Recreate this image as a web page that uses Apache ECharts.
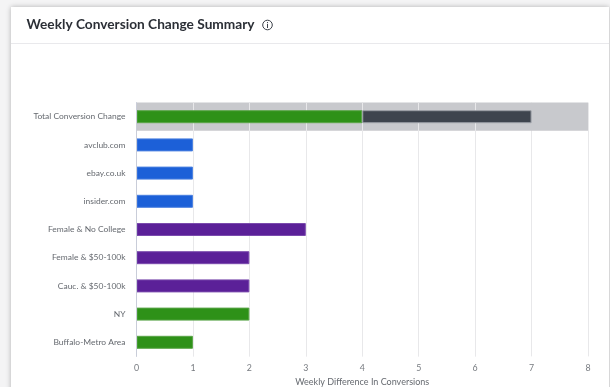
<!DOCTYPE html>
<html>
<head>
<meta charset="utf-8">
<style>
html,body{margin:0;padding:0;background:#f4f4f5;overflow:hidden}
#chart{width:610px;height:387px}
</style>
<script src="https://cdn.jsdelivr.net/npm/echarts@6/dist/echarts.min.js"></script>
</head>
<body>
<div id="chart"></div>
<script>
const categories = ['Total Conversion Change','avclub.com','ebay.co.uk','insider.com','Female & No College','Female & $50-100k','Cauc. & $50-100k','NY','Buffalo-Metro Area'];
const rangeBand = [8,null,null,null,null,null,null,null,null];
const greenValues = [4,null,null,null,null,null,null,2,1];
const darkValues = [3,null,null,null,null,null,null,null,null];
const blueValues = [null,1,1,1,null,null,null,null,null];
const purpleValues = [null,null,null,null,3,2,2,null,null];
const xTicks = [0,8];
const bandGridValues = [1,2,3,4,5,6];
const titleText = 'Weekly Conversion Change Summary';
const xName = 'Weekly Difference In Conversions';
const FONT = 'Lato, "Open Sans", sans-serif';

const chart = echarts.init(document.getElementById('chart'), null, {renderer:'canvas'});
const bar = (name, data, color, border) => ({
  name, type:'bar', stack:'main', data, barWidth:13, z:6,
  itemStyle:{color, borderColor:border, borderWidth:1}
});
chart.setOption({
  animation:false,
  backgroundColor:'transparent',
  graphic:[
    {type:'rect', z:-10, silent:true, shape:{x:11,y:7,width:598,height:400},
     style:{fill:'#fff', shadowBlur:5, shadowColor:'rgba(0,0,0,0.28)'}},
    {type:'line', z:-9, silent:true, shape:{x1:11,y1:43.5,x2:609,y2:43.5},
     style:{stroke:'#e9e9ec', lineWidth:1}},
    {type:'circle', z:5, silent:true, shape:{cx:267.5,cy:25,r:4.8},
     style:{fill:'none', stroke:'#3a3f48', lineWidth:1}},
    {type:'text', z:5, silent:true, x:267.5, y:25,
     style:{text:'i', align:'center', verticalAlign:'middle', font:'700 8px Lato', fill:'#3a3f48'}}
  ],
  title:{text:titleText, left:26.5, top:18, padding:0,
    textStyle:{fontFamily:FONT, fontSize:13.7, fontWeight:700, color:'#2b2f36'}},
  grid:{left:136.5, right:22, top:102.6, height:253.8, containLabel:false, outerBoundsMode:'none'},
  xAxis:{type:'value', min:xTicks[0], max:xTicks[1], interval:1,
    name:xName, nameLocation:'middle', nameGap:20,
    nameTextStyle:{fontFamily:FONT, fontSize:9, color:'#666a70'},
    axisLine:{show:false}, axisTick:{show:false},
    axisLabel:{fontFamily:FONT, fontSize:8.8, color:'#777b80', margin:7},
    splitLine:{show:true, lineStyle:{color:'#e8e8ea', width:1}}},
  yAxis:[
    {type:'category', data:categories, inverse:true, z:7,
     axisLine:{show:true, lineStyle:{color:'#c9cdd9', width:1}}, axisTick:{show:false},
     axisLabel:{fontFamily:FONT, fontSize:8.45, color:'#65696f', margin:11, padding:[2,0,0,0]}},
    {type:'category', data:categories, inverse:true, show:false}
  ],
  series:[
    {name:'Range', type:'bar', yAxisIndex:1, data:rangeBand, barWidth:'100%', z:0,
     itemStyle:{color:'#c8c9cd'},
     markLine:{silent:true, z:1, symbol:'none', label:{show:false}, animation:false,
       lineStyle:{color:'#e8e8ea', width:1, type:'solid'},
       data:bandGridValues.map(v => ({xAxis:v}))}},
    bar('Location', greenValues, '#2e9118', '#5aa548'),
    bar('Remaining', darkValues, '#3e444e', '#9a9ea5'),
    bar('Site', blueValues, '#1c60d8', '#4a80e0'),
    bar('Audience', purpleValues, '#5b2098', '#7b4bad')
  ]
});
</script>
</body>
</html>
